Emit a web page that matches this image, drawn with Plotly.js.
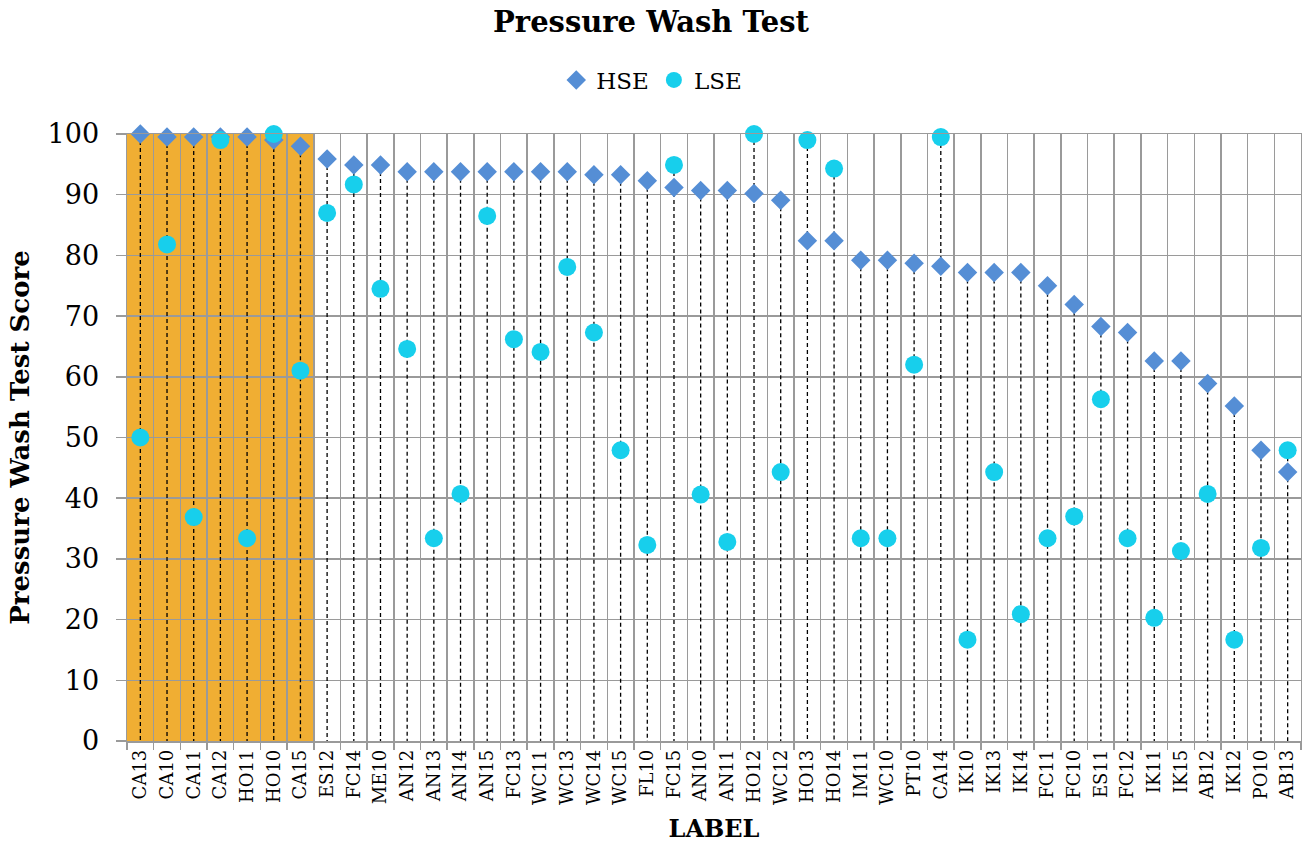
<!DOCTYPE html>
<html>
<head>
<meta charset="utf-8">
<script src="https://cdn.plot.ly/plotly-3.0.1.min.js"></script>
<style>html,body{margin:0;padding:0;background:#fff;}#chart{width:1302px;height:848px;}</style>
</head>
<body>
<div id="chart"></div>
<script>
const labels = ["CA13","CA10","CA11","CA12","HO11","HO10","CA15","ES12","FC14","ME10","AN12","AN13","AN14","AN15","FC13","WC11","WC13","WC14","WC15","FL10","FC15","AN10","AN11","HO12","WC12","HO13","HO14","IM11","WC10","PT10","CA14","IK10","IK13","IK14","FC11","FC10","ES11","FC12","IK11","IK15","AB12","IK12","PO10","AB13"];
const hse = [100,99.5,99.5,99.5,99.5,99.0,98.0,95.9,94.9,94.9,93.8,93.8,93.8,93.8,93.8,93.8,93.8,93.3,93.3,92.3,91.2,90.7,90.7,90.2,89.1,82.4,82.4,79.2,79.2,78.7,78.2,77.2,77.2,77.2,75.0,71.9,68.3,67.3,62.6,62.6,58.9,55.2,47.9,44.3];
const lse = [50.0,81.8,36.9,99.0,33.4,100,61.0,87.0,91.7,74.5,64.6,33.4,40.7,86.5,66.2,64.1,78.1,67.3,47.9,32.3,94.9,40.6,32.8,100,44.3,99.0,94.3,33.4,33.4,62.0,99.5,16.7,44.3,20.9,33.4,37.0,56.3,33.4,20.3,31.3,40.7,16.7,31.8,47.9];
const highlighted = ["CA13","CA10","CA11","CA12","HO11","HO10","CA15"];

const serif = "DejaVu Serif, Liberation Serif, serif";
const gridCol = "#9A9A9A";

// drop lines from the higher of the two series down to the axis
const dx = [], dy = [];
labels.forEach((l, i) => {
  dx.push(l, l, null);
  dy.push(Math.max(hse[i], lse[i]), 0, null);
});

const traces = [
  {x: dx, y: dy, type: "scatter", mode: "lines", showlegend: false, hoverinfo: "skip",
   line: {color: "#000", width: 1.3, dash: "4px,3px"}, cliponaxis: false},
  {x: labels, y: hse, type: "scatter", mode: "markers", name: "HSE", cliponaxis: false,
   marker: {symbol: "diamond", size: 15, color: "#558ED5"}},
  {x: labels, y: lse, type: "scatter", mode: "markers", name: "LSE", cliponaxis: false,
   marker: {symbol: "circle", size: 18, color: "#17CFEC"}}
];

const layout = {
  width: 1302, height: 848,
  margin: {l: 127, r: 1, t: 134, b: 107},
  paper_bgcolor: "#fff", plot_bgcolor: "#fff",
  font: {family: serif, color: "#000"},
  title: {text: "<b>Pressure Wash Test</b>", font: {family: serif, size: 29, color: "#000"},
          x: 0.5, xanchor: "center", y: 0.974, yanchor: "middle", yref: "container"},
  showlegend: true,
  legend: {orientation: "h", x: 0.447, xanchor: "center", y: 1.089, yanchor: "middle",
           font: {family: serif, size: 23, color: "#000"}, itemwidth: 30, traceorder: "normal"},
  xaxis: {type: "category", categoryorder: "array", categoryarray: labels,
          range: [-0.5, labels.length - 0.5], tickson: "boundaries",
          showgrid: true, gridcolor: gridCol, gridwidth: 1.5,
          ticks: "outside", ticklen: 7, tickcolor: gridCol, tickwidth: 1.5,
          showline: true, linecolor: gridCol, linewidth: 1.5, mirror: true,
          tickangle: -90, tickfont: {family: serif, size: 18, color: "#000"},
          title: {text: "<b>LABEL</b>", font: {family: serif, size: 24, color: "#000"}, standoff: 16},
          automargin: false, zeroline: false},
  yaxis: {range: [0, 100], dtick: 10, tick0: 0,
          showgrid: true, gridcolor: gridCol, gridwidth: 1.5,
          ticks: "outside", ticklen: 10, tickcolor: gridCol, tickwidth: 1.5,
          showline: true, linecolor: gridCol, linewidth: 1.5, mirror: true,
          tickfont: {family: serif, size: 27, color: "#000"}, ticklabelstandoff: 11,
          title: {text: "<b>Pressure Wash Test Score</b>", font: {family: serif, size: 26, color: "#000"}, standoff: 10},
          automargin: false, zeroline: false},
  shapes: [{type: "rect", xref: "x", yref: "y", layer: "below",
            x0: labels.indexOf(highlighted[0]) - 0.5, x1: labels.indexOf(highlighted[highlighted.length - 1]) + 0.5,
            y0: 0, y1: 100, fillcolor: "#F0AE33", line: {width: 0}}]
};

Plotly.newPlot("chart", traces, layout, {displayModeBar: false, staticPlot: true});
</script>
</body>
</html>
